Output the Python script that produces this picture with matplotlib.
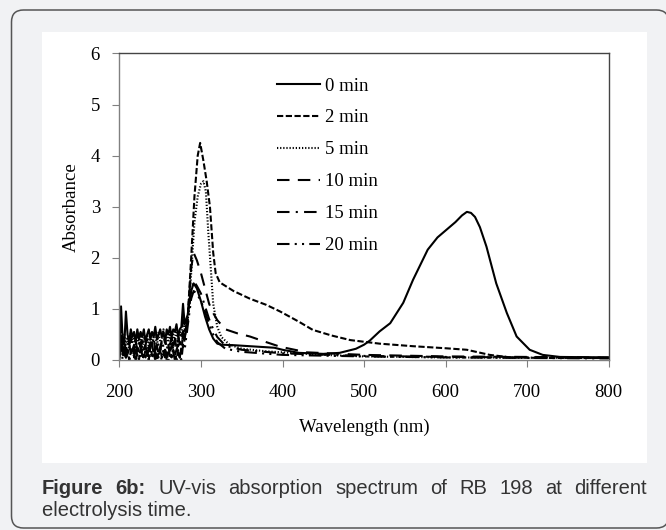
import numpy as np
import matplotlib
matplotlib.use('Agg')
from matplotlib import pyplot as plt
from matplotlib.patches import FancyBboxPatch, Rectangle
from matplotlib.transforms import IdentityTransform

# noisy part below ~280 nm, shared wavelength grid (2 nm steps)
noise_wl = list(range(200, 281, 2))

noise_0 = [0.2, 1.05, 0.4, 0.3, 0.95, 0.5, 0.35, 0.6, 0.45, 0.55, 0.35, 0.6, 0.4, 0.55,
           0.45, 0.6, 0.35, 0.5, 0.6, 0.4, 0.55, 0.45, 0.65, 0.4, 0.5, 0.6, 0.45, 0.55,
           0.35, 0.6, 0.5, 0.65, 0.45, 0.6, 0.55, 0.7, 0.45, 0.6, 0.65, 1.1, 0.7]
noise_2 = [0.0, 0.5, 0.1, 0.25, 0.05, 0.2, 0.0, 0.15, 0.25, 0.05, 0.2, 0.1, 0.0, 0.25,
           0.1, 0.05, 0.2, 0.15, 0.0, 0.25, 0.1, 0.05, 0.2, 0.0, 0.15, 0.25, 0.05, 0.1,
           0.2, 0.0, 0.15, 0.25, 0.05, 0.2, 0.1, 0.0, 0.2, 0.05, 0.1, 0.6, 0.4]
noise_5 = [0.3, 0.7, 0.25, 0.5, 0.3, 0.45, 0.2, 0.55, 0.35, 0.45, 0.25, 0.5, 0.3, 0.55,
           0.2, 0.45, 0.35, 0.5, 0.25, 0.55, 0.3, 0.45, 0.5, 0.25, 0.55, 0.35, 0.4, 0.6,
           0.3, 0.5, 0.35, 0.55, 0.25, 0.5, 0.4, 0.6, 0.3, 0.55, 0.45, 0.9, 0.6]
noise_10 = [0.1, 0.4, 0.15, 0.3, 0.05, 0.25, 0.35, 0.1, 0.2, 0.3, 0.05, 0.25, 0.15, 0.35,
            0.1, 0.2, 0.3, 0.05, 0.25, 0.15, 0.35, 0.1, 0.2, 0.3, 0.05, 0.25, 0.35, 0.15,
            0.2, 0.1, 0.3, 0.05, 0.25, 0.35, 0.1, 0.2, 0.3, 0.05, 0.25, 0.5, 0.35]
noise_15 = [0.25, 0.6, 0.2, 0.4, 0.15, 0.35, 0.25, 0.45, 0.2, 0.3, 0.4, 0.15, 0.35, 0.25,
            0.45, 0.2, 0.3, 0.4, 0.15, 0.35, 0.25, 0.45, 0.2, 0.35, 0.3, 0.15, 0.4, 0.25,
            0.45, 0.2, 0.35, 0.3, 0.45, 0.2, 0.4, 0.25, 0.5, 0.3, 0.4, 0.8, 0.5]
noise_20 = [0.05, 0.3, 0.0, 0.15, 0.05, 0.1, 0.0, 0.15, 0.05, 0.1, 0.0, 0.12, 0.05, 0.15,
            0.0, 0.1, 0.05, 0.15, 0.0, 0.1, 0.05, 0.12, 0.0, 0.15, 0.05, 0.1, 0.0, 0.12,
            0.05, 0.15, 0.0, 0.1, 0.05, 0.15, 0.0, 0.1, 0.05, 0.12, 0.0, 0.3, 0.2]

# smooth part
wl_0 = [284, 287, 291, 295, 300, 305, 310, 315, 320, 325, 340, 360, 380, 390, 400, 420, 450,
        470, 490, 500, 507, 519, 532, 548, 560, 578, 590, 601, 612, 620, 626, 631, 636, 642,
        650, 662, 675, 687, 703, 719, 740, 800]
abs_0 = [0.9, 1.3, 1.5, 1.4, 1.15, 0.85, 0.6, 0.42, 0.32, 0.3, 0.29, 0.27, 0.25, 0.24, 0.2,
         0.14, 0.12, 0.14, 0.22, 0.3, 0.38, 0.56, 0.72, 1.12, 1.57, 2.16, 2.4, 2.55, 2.7,
         2.83, 2.9, 2.88, 2.8, 2.6, 2.22, 1.5, 0.92, 0.46, 0.2, 0.1, 0.06, 0.05]

wl_2 = [284, 288, 292, 296, 299, 303, 307, 311, 315, 318, 323, 340, 360, 380, 397, 420, 437,
        460, 483, 519, 560, 600, 626, 640, 654, 680, 720, 800]
abs_2 = [0.9, 2.0, 3.2, 4.0, 4.25, 3.9, 3.5, 3.0, 2.1, 1.7, 1.52, 1.35, 1.2, 1.08, 0.95,
         0.75, 0.59, 0.48, 0.39, 0.32, 0.27, 0.23, 0.2, 0.15, 0.1, 0.05, 0.04, 0.04]

wl_5 = [284, 288, 292, 296, 300, 303, 306, 309, 312, 315, 320, 325, 335, 350, 380, 400, 450,
        500, 600, 800]
abs_5 = [0.8, 1.7, 2.7, 3.2, 3.45, 3.5, 3.3, 2.5, 1.8, 1.1, 0.65, 0.45, 0.3, 0.22, 0.17,
         0.15, 0.1, 0.07, 0.05, 0.04]

wl_10 = [284, 288, 291, 295, 300, 305, 310, 315, 320, 330, 345, 360, 380, 397, 430, 500, 600, 800]
abs_10 = [0.9, 1.8, 2.1, 1.95, 1.7, 1.4, 1.1, 0.92, 0.78, 0.6, 0.52, 0.46, 0.35, 0.26, 0.15,
          0.1, 0.07, 0.05]

wl_15 = [284, 288, 291, 295, 300, 305, 310, 315, 320, 330, 350, 400, 500, 600, 800]
abs_15 = [0.8, 1.35, 1.55, 1.45, 1.3, 1.05, 0.8, 0.6, 0.45, 0.28, 0.2, 0.13, 0.08, 0.06, 0.04]

wl_20 = [284, 288, 291, 295, 300, 305, 310, 315, 320, 330, 350, 400, 500, 600, 800]
abs_20 = [0.7, 1.2, 1.35, 1.3, 1.15, 0.95, 0.7, 0.5, 0.35, 0.22, 0.16, 0.1, 0.07, 0.05, 0.03]

labels = ['0 min', '2 min', '5 min', '10 min', '15 min', '20 min']
curves = [(noise_0, wl_0, abs_0), (noise_2, wl_2, abs_2), (noise_5, wl_5, abs_5),
          (noise_10, wl_10, abs_10), (noise_15, wl_15, abs_15), (noise_20, wl_20, abs_20)]
styles = ['-', (0, (3, 1.2)), (0, (0.6, 0.9)), (0, (6, 4)), (0, (6, 3, 1, 3)),
          (0, (6, 2.5, 1, 2.5, 1, 2.5))]

W, H = 666, 530
fig = plt.figure(figsize=(W / 100, H / 100), dpi=100)
fig.patch.set_facecolor('#f1f2f4')

# rounded frame and white panel, kept behind the axes
fig.add_artist(FancyBboxPatch((11.5, 2), 657, 518, boxstyle='round,pad=0,rounding_size=12',
                              transform=IdentityTransform(), fc='#f1f2f4', ec='#555555',
                              lw=1.1, zorder=-3))
fig.add_artist(Rectangle((42 / W, 67 / H), 605 / W, 431 / H, transform=fig.transFigure,
                         fc='white', ec='none', zorder=-2))

ax = fig.add_axes([119.4 / W, 170 / H, 489.4 / W, 306.5 / H])
ax.set_facecolor('white')

serif = 'Liberation Serif'
fs = 13.5
for (nz, wl, ab), lab, ls in zip(curves, labels, styles):
    x = noise_wl + wl
    y = nz + ab
    ax.plot(x, y, color='black', lw=1.5, ls=ls, label=lab)

ax.set_xlim(200, 800)
ax.set_ylim(0, 6)
ax.set_xticks(range(200, 801, 100))
ax.set_yticks(range(0, 7))
for sp in ax.spines.values():
    sp.set_color('#808080')
    sp.set_linewidth(1.0)
ax.spines['top'].set_color('#444444')
ax.spines['right'].set_color('#444444')
ax.tick_params(direction='out', length=5, color='#808080', labelsize=fs)
ax.tick_params(axis='x', pad=12)
ax.tick_params(axis='y', pad=9)
for t in ax.get_xticklabels() + ax.get_yticklabels():
    t.set_family(serif)

ax.set_xlabel('Wavelength (nm)', fontsize=fs, family=serif)
ax.set_ylabel('Absorbance', fontsize=fs, family=serif)
ax.xaxis.set_label_coords(0.5, -0.19)
ax.yaxis.set_label_coords(-0.08, 0.5)

leg = ax.legend(loc='upper left', bbox_to_anchor=(0.322, 0.922), frameon=False,
                prop={'family': serif, 'size': fs}, handlelength=2.3, handletextpad=0.27,
                labelspacing=0.79, borderpad=0, borderaxespad=0)

# justified caption
fig.canvas.draw()
r = fig.canvas.get_renderer()
words = [('Figure', 'bold'), ('6b:', 'bold'), ('UV-vis', 'normal'), ('absorption', 'normal'),
         ('spectrum', 'normal'), ('of', 'normal'), ('RB', 'normal'), ('198', 'normal'),
         ('at', 'normal'), ('different', 'normal')]
cap_kw = dict(family='Liberation Sans', fontsize=14.5, color='#333333', va='baseline')
arts = [fig.text(0, (H - 494) / H, w, weight=wt, **cap_kw) for w, wt in words]
widths = [a.get_window_extent(r).width for a in arts]
gap = (647 - 42 - sum(widths)) / (len(arts) - 1)
xpos = 42
for a, wdt in zip(arts, widths):
    a.set_x(xpos / W)
    xpos += wdt + gap
fig.text(42 / W, (H - 516) / H, 'electrolysis time.', **cap_kw)

fig.savefig('out.png', dpi=100, facecolor=fig.get_facecolor())
